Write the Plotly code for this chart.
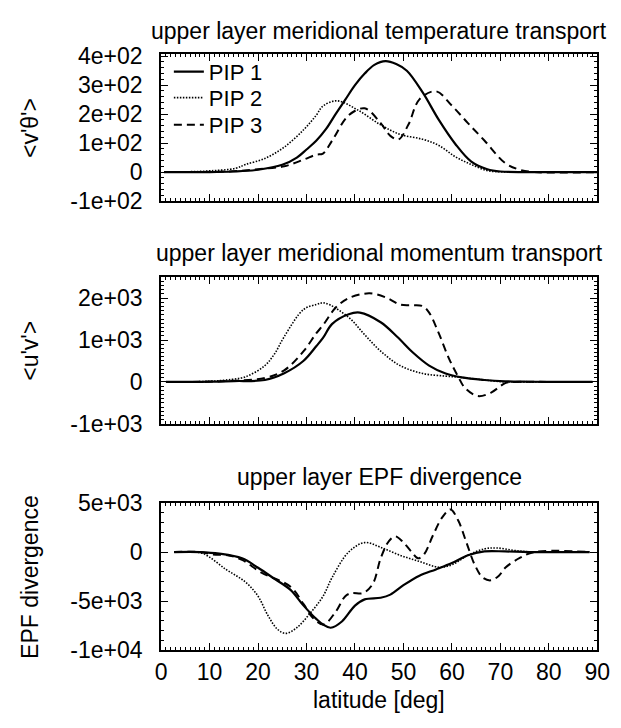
import plotly.graph_objects as go

# ---------------- data ----------------
# upper panel: <v'theta'>
lat_t1 = [0.6, 5, 10, 15, 20, 25, 28, 30, 32, 34, 36, 38, 40, 42, 44, 46.3, 48.5, 50.7, 54, 57.3, 60.7, 64, 67.3, 70, 75, 80, 90]
vt_pip1 = [0, 0, 0, 2, 8, 25, 50, 78, 108, 148, 200, 250, 300, 340, 370, 383, 373, 350, 274, 180, 97, 36, 10, 2, 0, 0, 0]

lat_t2 = [0.6, 5, 10, 15.4, 17.4, 21.4, 25.4, 29.4, 32, 33.4, 36.3, 40.7, 45.3, 49.3, 54, 57.3, 60.7, 64, 67.3, 70, 75, 90]
vt_pip2 = [0, 1, 4, 13, 26, 47, 86, 146, 196, 228, 246, 213, 163, 130, 113, 92, 53, 26, 5, 1, 0, 0]

lat_t3 = [0.6, 5, 10, 15, 20, 25.4, 29.4, 32, 33.4, 35.3, 38.7, 42, 45.3, 47.3, 49, 51, 53.3, 56.7, 60, 63.3, 66.7, 71, 74, 77, 90]
vt_pip3 = [0, 0, 1, 3, 10, 20, 43, 60, 64, 109, 196, 220, 169, 125, 113, 163, 251, 279, 229, 169, 109, 31, 8, 0, 0]

# middle panel: <u'v'>
lat_m1 = [1, 5, 10, 15, 21.4, 25.4, 29.4, 32, 33.4, 35.3, 38.7, 41, 45.3, 48.7, 52, 55.3, 58.7, 62, 66.7, 71, 75, 80, 89]
uv_pip1 = [0, 0, 5, 20, 46, 207, 505, 850, 1050, 1386, 1617, 1655, 1425, 1080, 697, 390, 200, 107, 46, 15, 5, 0, 0]

lat_m2 = [1, 5, 10, 13.4, 17.4, 21.4, 23.4, 25.4, 29.4, 32, 33.7, 38.7, 42, 45.3, 49.3, 54, 58.7, 62, 66.7, 71, 75, 89]
uv_pip2 = [0, 0, 15, 46, 122, 390, 670, 1080, 1730, 1846, 1885, 1540, 1126, 735, 390, 200, 138, 107, 46, 0, 0, 0]

lat_m3 = [1, 5, 10, 15, 21.4, 25.4, 29.4, 32, 33.4, 36, 38.7, 43, 46.7, 49.3, 52, 54, 55.3, 57.3, 59.3, 61.3, 62.7, 65.3, 68, 71, 73, 80, 89]
uv_pip3 = [0, 0, 5, 30, 92, 276, 735, 1157, 1355, 1770, 2000, 2115, 2000, 1846, 1831, 1808, 1655, 1157, 582, 122, -145, -338, -260, -30, 0, 0, 0]

# lower panel: EPF divergence
lat_e1 = [2.7, 8, 12, 16.7, 20, 23.4, 26.7, 29.4, 32, 33.4, 35, 37.3, 40, 42, 45.3, 47.3, 50, 53.3, 56.7, 60, 63.3, 66.7, 71, 76, 88.4]
epf_pip1 = [0, 0, -160, -640, -1600, -2730, -3850, -5450, -6800, -7370, -7700, -7060, -5450, -4810, -4650, -4330, -3370, -2400, -1770, -1125, -330, 60, 60, 0, 0]

lat_e2 = [2.7, 6, 8.7, 13.4, 17.4, 20, 22, 24, 25.7, 28, 30.7, 33.4, 35.3, 38.7, 42, 45.3, 49.3, 53.3, 57.3, 60, 63.3, 66.7, 69.3, 73, 77, 88.4]
epf_pip2 = [0, 0, -160, -1770, -3050, -4490, -6410, -7850, -8270, -7690, -6250, -4500, -2570, 0, 960, 480, -330, -960, -1540, -1290, -330, 320, 410, 150, 0, 0]

lat_e3 = [2.7, 8, 10.7, 14, 16.7, 20.7, 26.7, 29.4, 31.4, 33.5, 36, 38, 39.3, 41.7, 43.7, 45.3, 47, 48.3, 50, 51.7, 53, 54.3, 56, 58, 59.7, 61.3, 63, 64.7, 66.3, 68, 69.7, 71, 74, 77, 88.4]
epf_pip3 = [0, 0, -250, -350, -800, -2090, -3530, -5300, -6730, -7370, -6090, -4490, -4170, -4170, -3210, -640, 1120, 1600, 960, 0, -640, -200, 1600, 3520, 4330, 3200, 960, -1290, -2570, -2880, -2400, -1600, -600, 0, 0]

names = ["PIP 1", "PIP 2", "PIP 3"]

top_ticks = [-100, 0, 100, 200, 300, 400]
top_text = ["-1e+02", "0", "1e+02", "2e+02", "3e+02", "4e+02"]
mid_ticks = [-1000, 0, 1000, 2000]
mid_text = ["-1e+03", "0", "1e+03", "2e+03"]
bot_ticks = [-10000, -5000, 0, 5000]
bot_text = ["-1e+04", "-5e+03", "0", "5e+03"]
x_ticks = [0, 10, 20, 30, 40, 50, 60, 70, 80, 90]

titles = ["upper layer meridional temperature transport",
          "upper layer meridional momentum transport",
          "upper layer EPF divergence"]
ytitles = ["&lt;v'θ'&gt;", "&lt;u'v'&gt;", "EPF divergence"]
xtitle = "latitude [deg]"

# ---------------- layout geometry (pixels) ----------------
W, H = 621, 728
bx0, bx1 = 160, 610
boxes = [(43, 195), (274, 426), (508, 661)]
legend_rows = [61, 88, 116]
FONT = "Liberation Sans, Arial, Helvetica, sans-serif"
FS = 23


def py(p):
    return 1 - p / H


styles = [dict(color="black", width=2.2),
          dict(color="black", width=1.6, dash="1.5px,1.5px"),
          dict(color="black", width=2.0, dash="8px,5px")]
legend_ids = ["legend", "legend2", "legend3"]

fig = go.Figure()
panels = [
    [(lat_t1, vt_pip1), (lat_t2, vt_pip2), (lat_t3, vt_pip3)],
    [(lat_m1, uv_pip1), (lat_m2, uv_pip2), (lat_m3, uv_pip3)],
    [(lat_e1, epf_pip1), (lat_e2, epf_pip2), (lat_e3, epf_pip3)],
]
for i, panel in enumerate(panels):
    for j, (xs, ys) in enumerate(panel):
        fig.add_trace(go.Scatter(
            x=xs, y=ys, mode="lines", name=names[j],
            line=dict(shape="spline", smoothing=1.0, **styles[j]),
            xaxis="x" if i == 0 else f"x{i+1}",
            yaxis="y" if i == 0 else f"y{i+1}",
            showlegend=(i == 0),
            legend=legend_ids[j],
        ))

yranges = [[-100, 406], [-1000, 2500], [-10000, 5000]]
yticks = [(top_ticks, top_text), (mid_ticks, mid_text), (bot_ticks, bot_text)]
yminor = [20, 100, 1000]

layout = dict(
    width=W, height=H,
    margin=dict(l=0, r=0, t=0, b=0),
    paper_bgcolor="white", plot_bgcolor="white",
    font=dict(family=FONT, size=FS, color="black"),
)
for j, lid in enumerate(legend_ids):
    layout[lid] = dict(x=168 / W, y=py(legend_rows[j]), xanchor="left", yanchor="middle",
                       bgcolor="rgba(0,0,0,0)", font=dict(size=22), itemwidth=30)
for i in range(3):
    sx = "" if i == 0 else str(i + 1)
    top, bot = boxes[i]
    layout["xaxis" + sx] = dict(
        domain=[bx0 / W, bx1 / W], range=[0, 90], anchor="y" + sx,
        tickmode="array", tickvals=x_ticks,
        ticks="inside", ticklen=7, tickwidth=1.3, tickcolor="black",
        minor=dict(dtick=1, ticks="inside", ticklen=3, tickwidth=1, tickcolor="black"),
        showline=True, linecolor="black", linewidth=2, mirror="allticks",
        showgrid=False, zeroline=False,
        showticklabels=(i == 2), tickfont=dict(size=FS),
        ticklabelstandoff=0, ticklabeloverflow="allow",
    )
    layout["yaxis" + sx] = dict(
        domain=[py(bot), py(top)], range=yranges[i], anchor="x" + sx,
        tickmode="array", tickvals=yticks[i][0], ticktext=yticks[i][1],
        ticks="inside", ticklen=7, tickwidth=1.3, tickcolor="black",
        minor=dict(dtick=yminor[i], ticks="inside", ticklen=3, tickwidth=1, tickcolor="black"),
        showline=True, linecolor="black", linewidth=2, mirror="allticks",
        showgrid=False, zeroline=False, tickfont=dict(size=FS),
        ticklabelstandoff=12, ticklabeloverflow="allow",
    )
fig.update_layout(**layout)

title_y = [19, 249, 481]
ann = []
for i in range(3):
    ann.append(dict(text=titles[i], x=(bx0 + bx1) / 2 / W, y=py(title_y[i]),
                    xref="paper", yref="paper", showarrow=False,
                    xanchor="center", yanchor="middle", font=dict(size=FS)))
    top, bot = boxes[i]
    ann.append(dict(text=ytitles[i], x=24 / W, y=py((top + bot) / 2),
                    xref="paper", yref="paper", showarrow=False, textangle=-90,
                    xanchor="center", yanchor="middle", font=dict(size=FS)))
ann.append(dict(text=xtitle, x=(bx0 + bx1) / 2 / W, y=py(712),
                xref="paper", yref="paper", showarrow=False,
                xanchor="center", yanchor="middle", font=dict(size=FS)))
fig.update_layout(annotations=ann)

fig.write_html("out.html")
